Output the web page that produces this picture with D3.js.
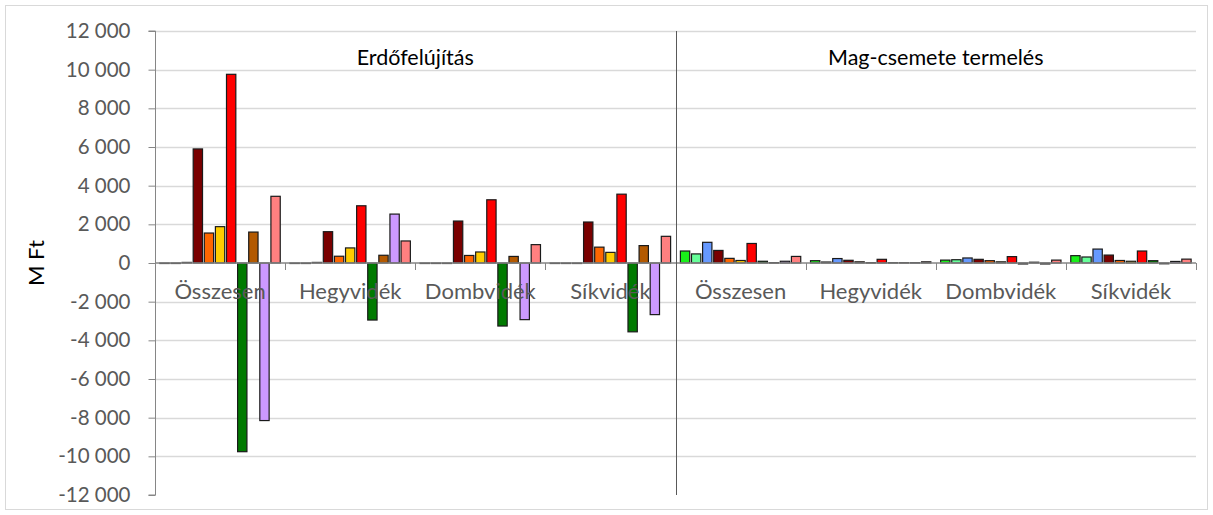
<!DOCTYPE html>
<html>
<head>
<meta charset="utf-8">
<script src="https://cdn.jsdelivr.net/npm/d3@7"></script>
<style>
  html, body { margin: 0; padding: 0; background: #fff; }
  svg { display: block; }
  text { font-family: Lato, "Open Sans", sans-serif; }
</style>
</head>
<body>
<svg id="chart" width="1213" height="515"></svg>
<script>
// Panels and sub-regions along the category axis
const panels = ["Erdőfelújítás", "Mag-csemete termelés"];
const regions = ["Összesen", "Hegyvidék", "Dombvidék", "Síkvidék"];

// Y axis ticks (M Ft)
const yTicks = [12000, 10000, 8000, 6000, 4000, 2000, 0, -2000, -4000, -6000, -8000, -10000, -12000];

// Series values, in category order:
// Erdőfelújítás × 4 regions, then Mag-csemete termelés × 4 regions
const sGreen      = [0, 0, 0, 0,            620, 120, 150, 380];
const sLightGreen = [0, 0, 0, 0,            470, 50, 170, 310];
const sBlue       = [30, 30, 0, 0,          1070, 230, 260, 720];
const sDarkRed    = [5900, 1620, 2170, 2120, 650, 140, 190, 410];
const sOrange     = [1550, 350, 390, 820,   240, 60, 120, 130];
const sYellow     = [1880, 780, 570, 550,   130, 20, 60, 90];
const sRed        = [9760, 2960, 3270, 3560, 1010, 190, 330, 620];
const sDarkGreen  = [-9760, -2950, -3260, -3560, 90, 20, -50, 120];
const sBrown      = [1600, 400, 340, 900,   20, 20, 40, -40];
const sLavender   = [-8150, 2530, -2930, -2670, 90, 20, -50, 80];
const sPink       = [3450, 1140, 950, 1380, 340, 60, 150, 200];

const seriesValues = [sGreen, sLightGreen, sBlue, sDarkRed, sOrange, sYellow,
                      sRed, sDarkGreen, sBrown, sLavender, sPink];
const seriesColors = ["#19f019", "#66ff99", "#6699ff", "#7a0000", "#ff6600", "#ffcc00",
                      "#ff0000", "#007a00", "#b35900", "#cc99ff", "#ff8080"];

const svg = d3.select("#chart");
const W = 1213, H = 515;
const plot = { left: 155, right: 1196, top: 31, bottom: 495 };

// outer chart border
svg.append("rect")
  .attr("x", 5.5).attr("y", 5.5)
  .attr("width", W - 11).attr("height", H - 11)
  .attr("fill", "#fff").attr("stroke", "#d9d9d9").attr("stroke-width", 1);

const categories = [];
panels.forEach((p, pi) => regions.forEach((r, ri) => categories.push({ key: pi + "-" + ri, panel: p, region: r })));

const x = d3.scaleBand()
  .domain(categories.map(c => c.key))
  .range([plot.left, plot.right])
  .paddingInner(0).paddingOuter(0);

const xs = d3.scaleBand()
  .domain(d3.range(seriesValues.length))
  .range([0, x.bandwidth()])
  .paddingInner(0.16).paddingOuter(0.44);

const y = d3.scaleLinear().domain([-12000, 12000]).range([plot.bottom, plot.top]);

// horizontal gridlines
svg.append("g")
  .selectAll("line")
  .data(yTicks.filter(t => t !== 0 && t !== -12000))
  .join("line")
  .attr("x1", plot.left).attr("x2", plot.right)
  .attr("y1", d => Math.round(y(d)) + 0.5).attr("y2", d => Math.round(y(d)) + 0.5)
  .attr("stroke", "#d9d9d9").attr("stroke-width", 1.5);

// y axis
const fmt = v => d3.format(",")(v).replace(/,/g, " ").replace("−", "-");
const yAxis = d3.axisLeft(y)
  .tickValues(yTicks)
  .tickSize(7)
  .tickPadding(18)
  .tickFormat(fmt);
const gy = svg.append("g")
  .attr("transform", `translate(${plot.left + 0.5},0)`)
  .call(yAxis);
gy.select(".domain").attr("stroke", "#868686").attr("d", `M-7,${y(12000)}H0V${y(-12000)}H-7`);
gy.selectAll(".tick line").attr("stroke", "#868686");
gy.selectAll(".tick text")
  .attr("fill", "#595959")
  .style("font-size", "20.5px")
  .style("font-family", "Lato, 'Open Sans', sans-serif");

// axis title
svg.append("text")
  .attr("transform", `translate(44,${y(0)}) rotate(-90)`)
  .attr("text-anchor", "middle")
  .attr("fill", "#000")
  .style("font-size", "22px")
  .text("M Ft");

// bars
const bars = svg.append("g");
categories.forEach((c, ci) => {
  seriesValues.forEach((vals, si) => {
    const v = vals[ci];
    const y0 = y(Math.max(0, v)), y1 = y(Math.min(0, v));
    bars.append("rect")
      .attr("x", x(c.key) + xs(si))
      .attr("y", y0)
      .attr("width", xs.bandwidth())
      .attr("height", Math.max(0.5, y1 - y0))
      .attr("fill", seriesColors[si])
      .attr("stroke", "#1a1a1a")
      .attr("stroke-width", 1.2);
  });
});

// category axis at zero
const gx = svg.append("g").attr("transform", `translate(0,${y(0)})`);
gx.append("line")
  .attr("x1", plot.left).attr("x2", plot.right)
  .attr("stroke", "#868686").attr("stroke-width", 1.5);
const bounds = categories.map(c => x(c.key)).concat([plot.right]);
gx.selectAll("line.tick")
  .data(bounds.slice(1))
  .join("line")
  .attr("class", "tick")
  .attr("x1", d => Math.round(d) + 0.5).attr("x2", d => Math.round(d) + 0.5)
  .attr("y1", 0).attr("y2", 7)
  .attr("stroke", "#868686");
gx.selectAll("text")
  .data(categories)
  .join("text")
  .attr("x", d => x(d.key) + x.bandwidth() / 2)
  .attr("y", 36)
  .attr("text-anchor", "middle")
  .attr("fill", "#595959")
  .style("font-size", "22px")
  .text(d => d.region);

// panel separator
const sepX = x(categories[regions.length].key);
svg.append("line")
  .attr("x1", Math.round(sepX) + 0.5).attr("x2", Math.round(sepX) + 0.5)
  .attr("y1", plot.top).attr("y2", plot.bottom)
  .attr("stroke", "#595959").attr("stroke-width", 1);

// panel titles
panels.forEach((p, pi) => {
  const first = x(categories[pi * regions.length].key);
  const last = x(categories[pi * regions.length + regions.length - 1].key) + x.bandwidth();
  svg.append("text")
    .attr("x", (first + last) / 2)
    .attr("y", 65)
    .attr("text-anchor", "middle")
    .attr("fill", "#000")
    .style("font-size", "21.5px")
    .text(p);
});
</script>
</body>
</html>
